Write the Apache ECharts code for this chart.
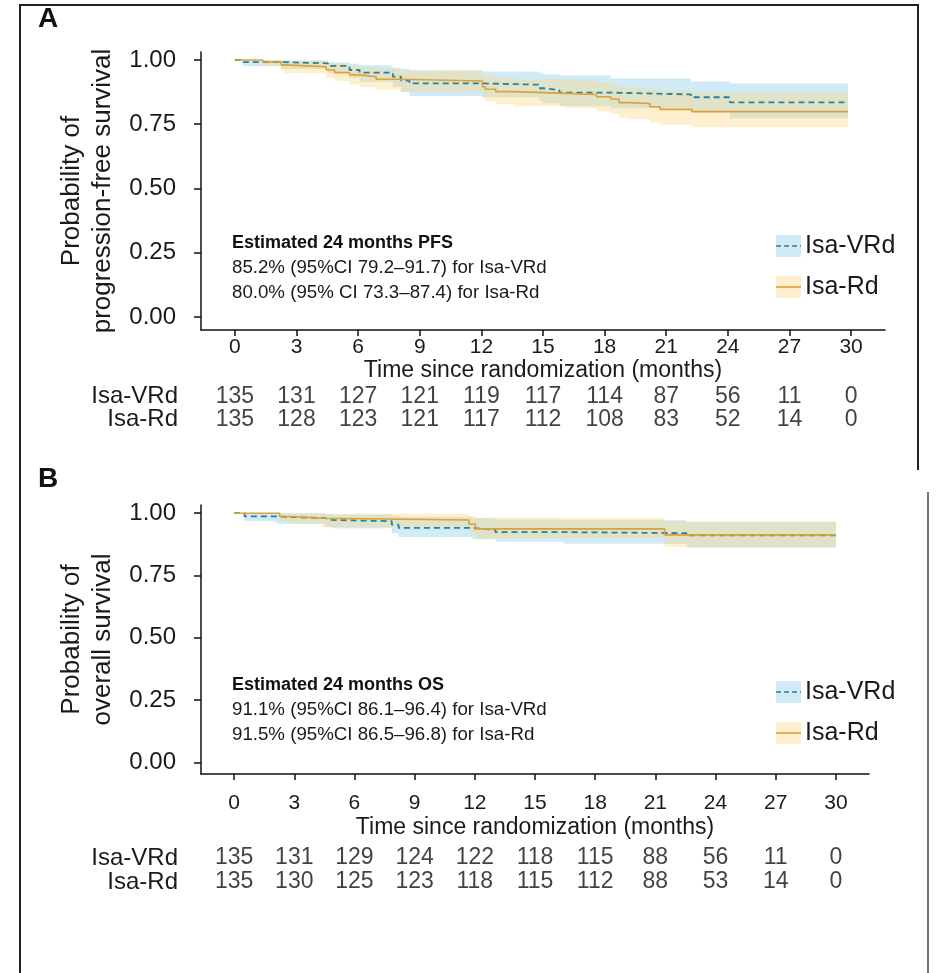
<!DOCTYPE html>
<html lang="en">
<head>
    <meta charset="UTF-8">
    <title>Isa-VRd vs Isa-Rd</title>
    <script type="text/javascript" src="https://cdn.jsdelivr.net/npm/echarts@6/dist/echarts.min.js"></script>
    <style>
        html, body { margin: 0; padding: 0; background: #fff; }
    </style>
</head>
<body>
<div id="main" style="width: 938px;height: 973px"></div>
<script type="text/javascript">
    // tick values and at-risk table
    var xTicks = [0, 3, 6, 9, 12, 15, 18, 21, 24, 27, 30];
    var yTicks = [0, 0.25, 0.5, 0.75, 1];
    var riskCats = ['Isa-Rd', 'Isa-VRd'];
    var pfsRiskVRd = [135, 131, 127, 121, 119, 117, 114, 87, 56, 11, 0];
    var pfsRiskRd = [135, 128, 123, 121, 117, 112, 108, 83, 52, 14, 0];
    var osRiskVRd = [135, 131, 129, 124, 122, 118, 115, 88, 56, 11, 0];
    var osRiskRd = [135, 130, 125, 123, 118, 115, 112, 88, 53, 14, 0];

    // PFS, Isa-VRd (time in months, survival, 95% CI)
    var pfsVRdT = [0, 0.4, 2.26, 4.53, 5.58, 6.07, 7.69, 8.09, 8.5, 12.05, 14.8, 15.0, 15.8, 18.3, 22.2, 24.1, 29.85];
    var pfsVRdS = [1, 0.992, 0.987, 0.977, 0.961, 0.951, 0.935, 0.920, 0.909, 0.904, 0.890, 0.883, 0.873, 0.866, 0.855, 0.835, 0.835];
    var pfsVRdHi = [1, 1, 0.998, 0.99, 0.985, 0.98, 0.97, 0.965, 0.96, 0.955, 0.95, 0.945, 0.94, 0.928, 0.916, 0.909, 0.909];
    var pfsVRdLo = [1, 0.976, 0.965, 0.95, 0.93, 0.915, 0.895, 0.875, 0.86, 0.855, 0.84, 0.832, 0.82, 0.812, 0.8, 0.773, 0.773];

    // PFS, Isa-Rd
    var pfsRdT = [0, 1.36, 2.26, 2.42, 4.45, 4.86, 5.58, 6.07, 6.88, 8.0, 12.05, 12.2, 12.7, 13.6, 16.1, 17.6, 18.3, 18.7, 19.2, 20.2, 20.7, 22.25, 29.85];
    var pfsRdS = [1, 0.992, 0.981, 0.974, 0.961, 0.951, 0.942, 0.935, 0.925, 0.918, 0.896, 0.886, 0.877, 0.870, 0.866, 0.857, 0.848, 0.834, 0.831, 0.818, 0.808, 0.799, 0.799];
    var pfsRdHi = [1, 1, 1, 0.998, 0.99, 0.985, 0.978, 0.973, 0.965, 0.96, 0.945, 0.938, 0.932, 0.925, 0.92, 0.913, 0.905, 0.895, 0.893, 0.885, 0.88, 0.873, 0.873];
    var pfsRdLo = [1, 0.976, 0.958, 0.948, 0.93, 0.918, 0.905, 0.895, 0.885, 0.877, 0.85, 0.84, 0.828, 0.82, 0.812, 0.8, 0.79, 0.775, 0.77, 0.758, 0.748, 0.738, 0.738];

    // OS, Isa-VRd
    var osVRdT = [0, 0.52, 2.1, 4.52, 4.86, 7.86, 8.2, 11.87, 13.03, 16.46, 22.55, 30];
    var osVRdS = [1, 0.987, 0.980, 0.973, 0.968, 0.954, 0.941, 0.933, 0.924, 0.920, 0.911, 0.911];
    var osVRdHi = [1, 1, 1, 0.997, 0.995, 0.99, 0.985, 0.98, 0.975, 0.972, 0.964, 0.964];
    var osVRdLo = [1, 0.968, 0.958, 0.945, 0.94, 0.92, 0.905, 0.895, 0.885, 0.877, 0.861, 0.861];

    // OS, Isa-Rd
    var osRdT = [0, 2.27, 2.77, 4.4, 11.7, 12.03, 21.47, 30];
    var osRdS = [1, 0.987, 0.980, 0.973, 0.957, 0.937, 0.913, 0.913];
    var osRdHi = [1, 1, 1, 0.998, 0.99, 0.982, 0.968, 0.968];
    var osRdLo = [1, 0.967, 0.958, 0.945, 0.925, 0.9, 0.865, 0.865];

    var FONT = 'Liberation Sans, Arial, sans-serif';
    var TXT = '#1a1a1a';
    var VRD_LINE = '#2a809f';
    var RD_LINE = '#dca13a';
    var VRD_FILL = 'rgba(125,200,228,0.36)';
    var RD_FILL = 'rgba(252,212,120,0.36)';

    function pairs(t, v) {
        return t.map(function (x, i) { return [x, v[i]]; });
    }

    // CI band drawn as one step-shaped polygon through the axis scales
    function bandSeries(gi, t, lo, hi, fill) {
        return {
            type: 'custom', xAxisIndex: gi, yAxisIndex: gi, silent: true, z: 1,
            data: [[t[0], lo[0]]],
            renderItem: function (params, api) {
                var top = [], bottom = [];
                for (var i = 0; i < t.length; i++) {
                    var next = i < t.length - 1 ? t[i + 1] : t[i];
                    top.push(api.coord([t[i], hi[i]]), api.coord([next, hi[i]]));
                    bottom.push(api.coord([t[i], lo[i]]), api.coord([next, lo[i]]));
                }
                return {
                    type: 'polygon',
                    shape: {points: top.concat(bottom.reverse())},
                    style: {fill: fill, stroke: null}
                };
            }
        };
    }

    function kmLine(gi, t, s, color, dashed) {
        return {
            type: 'line', xAxisIndex: gi, yAxisIndex: gi, step: 'end',
            data: pairs(t, s), symbol: 'none', silent: true,
            lineStyle: {color: color, width: dashed ? 1.8 : 1.6, type: dashed ? [6, 4] : 'solid'},
            z: 3
        };
    }

    function riskSeries(gi, cat, values) {
        return {
            type: 'scatter', xAxisIndex: gi, yAxisIndex: gi, symbolSize: 1,
            itemStyle: {color: 'rgba(0,0,0,0)'}, silent: true,
            data: xTicks.map(function (x, i) { return [x, cat, values[i]]; }),
            label: {
                show: true, position: 'inside', color: '#111', fontSize: 23, fontFamily: FONT,
                formatter: function (p) { return p.value[2]; }
            }
        };
    }

    var axisLineStyle = {color: '#111', width: 1.5};

    function kmXAxis(gi, labelMargin, nameGap) {
        return {
            type: 'value', gridIndex: gi, min: -1.65, max: 31.65,
            name: 'Time since randomization (months)', nameLocation: 'middle', nameGap: nameGap,
            nameTextStyle: {fontSize: 23, color: TXT, fontFamily: FONT},
            axisLine: {show: true, onZero: false, lineStyle: axisLineStyle},
            axisTick: {show: true, length: 6, customValues: xTicks, lineStyle: axisLineStyle},
            axisLabel: {customValues: xTicks, fontSize: 21, color: TXT, fontFamily: FONT, margin: labelMargin},
            splitLine: {show: false}
        };
    }

    function kmYAxis(gi, min, max, title) {
        return {
            type: 'value', gridIndex: gi, min: min, max: max,
            name: title, nameLocation: 'middle', nameGap: 82, nameRotate: 90,
            nameTextStyle: {fontSize: 26, color: TXT, fontFamily: FONT, lineHeight: 31, align: 'center'},
            axisLine: {show: true, onZero: false, lineStyle: axisLineStyle},
            axisTick: {show: true, length: 7, customValues: yTicks, lineStyle: axisLineStyle},
            axisLabel: {
                customValues: yTicks, fontSize: 24, color: TXT, fontFamily: FONT, margin: 25,
                formatter: function (v) { return v.toFixed(2); }
            },
            splitLine: {show: false}
        };
    }

    function riskXAxis(gi) {
        return {type: 'value', gridIndex: gi, min: -1.65, max: 31.65, show: false};
    }

    function riskYAxis(gi) {
        return {
            type: 'category', gridIndex: gi, data: riskCats,
            axisLine: {show: false}, axisTick: {show: false},
            axisLabel: {interval: 0, fontSize: 24, color: TXT, fontFamily: FONT, margin: 23}
        };
    }

    function legendBlock(x, y1, y2) {
        var items = [
            {y: y1, fill: VRD_FILL, line: VRD_LINE, dash: [5, 3], label: 'Isa-VRd'},
            {y: y2, fill: RD_FILL, line: RD_LINE, dash: null, label: 'Isa-Rd'}
        ];
        var out = [];
        items.forEach(function (it) {
            out.push({type: 'rect', shape: {x: x, y: it.y - 11, width: 25, height: 22}, style: {fill: it.fill}, silent: true});
            out.push({
                type: 'line', shape: {x1: x, y1: it.y, x2: x + 25, y2: it.y},
                style: {stroke: it.line, lineWidth: 1.6, lineDash: it.dash}, silent: true
            });
            out.push({
                type: 'text', x: x + 29, y: it.y,
                style: {text: it.label, font: '25px ' + FONT, fill: TXT, verticalAlign: 'middle'}, silent: true
            });
        });
        return out;
    }

    function noteBlock(x, y, title, l1, l2) {
        return [
            {type: 'text', x: x, y: y, style: {text: title, font: 'bold 18px ' + FONT, fill: '#111', verticalAlign: 'middle'}, silent: true},
            {type: 'text', x: x, y: y + 25, style: {text: l1, font: '18.7px ' + FONT, fill: TXT, verticalAlign: 'middle'}, silent: true},
            {type: 'text', x: x, y: y + 50, style: {text: l2, font: '18.7px ' + FONT, fill: TXT, verticalAlign: 'middle'}, silent: true}
        ];
    }

    var myChart = echarts.init(document.getElementById('main'), null, {renderer: 'canvas'});

    var graphics = [
        {type: 'polyline', shape: {points: [[20, 973], [20, 5], [918, 5], [918, 470]]}, style: {stroke: '#222', lineWidth: 2, fill: null}, silent: true},
        {type: 'line', shape: {x1: 928, y1: 492, x2: 928, y2: 973}, style: {stroke: '#444', lineWidth: 1.5}, silent: true},
        {type: 'text', x: 38, y: 19, style: {text: 'A', font: 'bold 28px ' + FONT, fill: '#111', verticalAlign: 'middle'}, silent: true},
        {type: 'text', x: 38, y: 479, style: {text: 'B', font: 'bold 28px ' + FONT, fill: '#111', verticalAlign: 'middle'}, silent: true}
    ]
        .concat(noteBlock(232, 243, 'Estimated 24 months PFS', '85.2% (95%CI 79.2\u201391.7) for Isa-VRd', '80.0% (95% CI 73.3\u201387.4) for Isa-Rd'))
        .concat(noteBlock(232, 685, 'Estimated 24 months OS', '91.1% (95%CI 86.1\u201396.4) for Isa-VRd', '91.5% (95%CI 86.5\u201396.8) for Isa-Rd'))
        .concat(legendBlock(776, 246, 287))
        .concat(legendBlock(776, 692, 733));

    var option = {
        animation: false,
        textStyle: {fontFamily: FONT},
        grid: [
            {left: 201, top: 52, width: 684, height: 278},
            {left: 201, top: 505, width: 668, height: 269},
            {left: 201, top: 385, width: 684, height: 46},
            {left: 201, top: 846, width: 668, height: 48}
        ],
        xAxis: [kmXAxis(0, 7, 25), kmXAxis(1, 19, 42), riskXAxis(2), riskXAxis(3)],
        yAxis: [
            kmYAxis(0, -0.0506, 1.0311, 'Probability of\nprogression-free survival'),
            kmYAxis(1, -0.047, 1.033, 'Probability of\noverall survival'),
            riskYAxis(2),
            riskYAxis(3)
        ],
        series: [
            bandSeries(0, pfsVRdT, pfsVRdLo, pfsVRdHi, VRD_FILL),
            bandSeries(0, pfsRdT, pfsRdLo, pfsRdHi, RD_FILL),
            bandSeries(1, osVRdT, osVRdLo, osVRdHi, VRD_FILL),
            bandSeries(1, osRdT, osRdLo, osRdHi, RD_FILL),
            kmLine(0, pfsVRdT, pfsVRdS, VRD_LINE, true),
            kmLine(0, pfsRdT, pfsRdS, RD_LINE, false),
            kmLine(1, osVRdT, osVRdS, VRD_LINE, true),
            kmLine(1, osRdT, osRdS, RD_LINE, false),
            riskSeries(2, 'Isa-VRd', pfsRiskVRd),
            riskSeries(2, 'Isa-Rd', pfsRiskRd),
            riskSeries(3, 'Isa-VRd', osRiskVRd),
            riskSeries(3, 'Isa-Rd', osRiskRd)
        ],
        graphic: graphics
    };
    myChart.setOption(option);
</script>
</body>
</html>
